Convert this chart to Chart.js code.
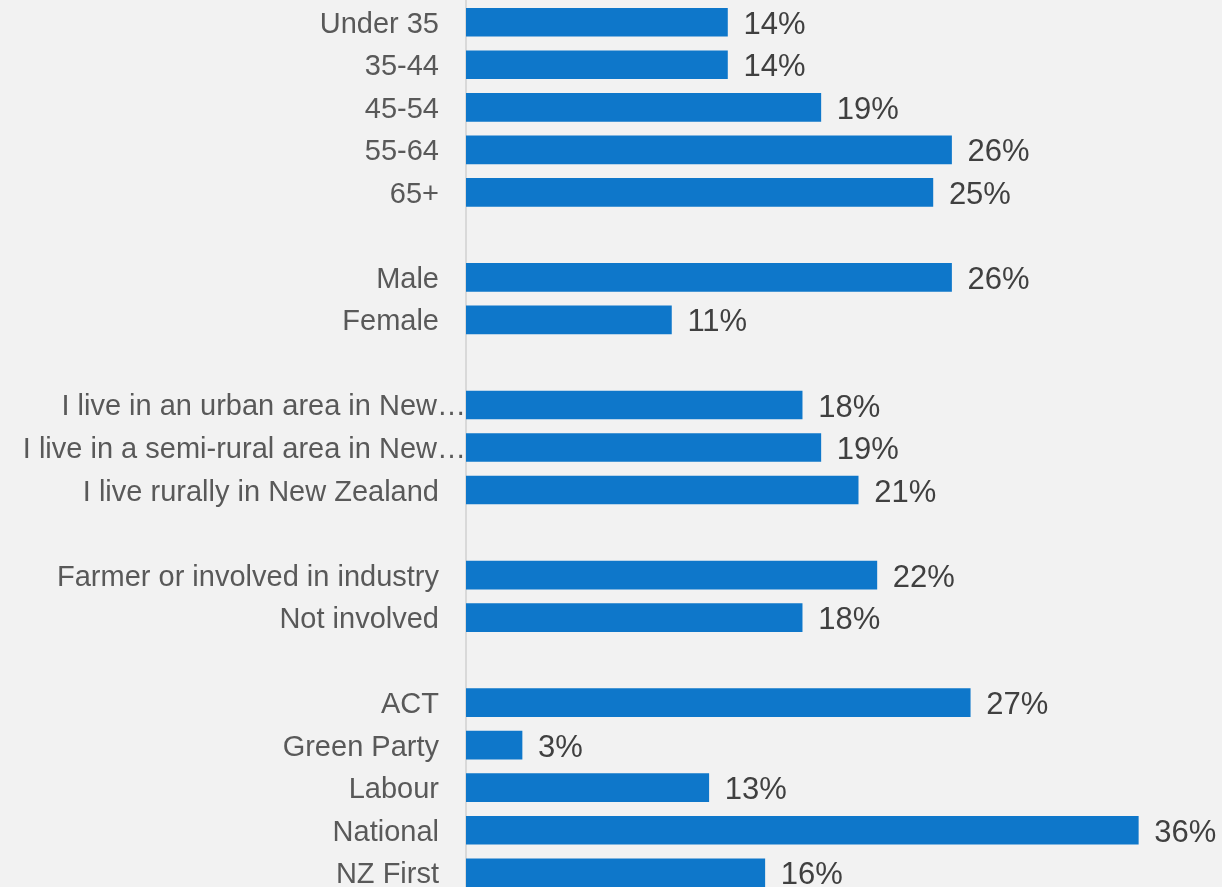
<!DOCTYPE html>
<html>
<head>
<meta charset="utf-8">
<script src="https://cdn.jsdelivr.net/npm/chart.js@4.4.1/dist/chart.umd.min.js"></script>
<style>
  html, body { margin: 0; padding: 0; background: #f2f2f2; overflow: hidden; }
  #wrap { position: relative; width: 1222px; height: 894px; }
</style>
</head>
<body>
<div id="wrap"><canvas id="chart"></canvas></div>
<script>
// ---- DATA ----
// empty strings are the blank spacer rows between groups
const categories = [
  'Under 35', '35-44', '45-54', '55-64', '65+',
  '',
  'Male', 'Female',
  '',
  'I live in an urban area in New\u2026', 'I live in a semi-rural area in New\u2026', 'I live rurally in New Zealand',
  '',
  'Farmer or involved in industry', 'Not involved',
  '',
  'ACT', 'Green Party', 'Labour', 'National', 'NZ First'
];
const values = [
  14, 14, 19, 26, 25,
  null,
  26, 11,
  null,
  18, 19, 21,
  null,
  22, 18,
  null,
  27, 3, 13, 36, 16
];
const xMin = 0;
const xMax = 40;

const FONT = '"Liberation Sans", Arial, sans-serif';

// category labels, drawn against the y scale (truncated labels run up to the axis)
const yLabelPlugin = {
  id: 'yLabels',
  afterDraw(chart) {
    const ctx = chart.ctx;
    const y = chart.scales.y;
    ctx.save();
    ctx.font = '29px ' + FONT;
    ctx.fillStyle = '#595959';
    ctx.textAlign = 'right';
    ctx.textBaseline = 'middle';
    categories.forEach((label, i) => {
      if (!label) return;
      const truncated = label.endsWith('\u2026');
      const x = truncated ? y.right : y.right - 27;
      ctx.fillText(label, x, y.getPixelForValue(i) + 2.5);
    });
    ctx.restore();
  }
};

// value labels at the end of each bar
const valueLabelPlugin = {
  id: 'valueLabels',
  afterDatasetsDraw(chart) {
    const ctx = chart.ctx;
    const meta = chart.getDatasetMeta(0);
    ctx.save();
    ctx.font = '31px ' + FONT;
    ctx.fillStyle = '#404040';
    ctx.textAlign = 'left';
    ctx.textBaseline = 'middle';
    meta.data.forEach((bar, i) => {
      const v = values[i];
      if (v === null) return;
      ctx.fillText(v + '%', bar.x + 16, bar.y + 3);
    });
    ctx.restore();
  }
};

new Chart(document.getElementById('chart'), {
  type: 'bar',
  data: {
    labels: categories,
    datasets: [{
      data: values,
      backgroundColor: '#0e77ca',
      borderWidth: 0,
      barThickness: 28
    }]
  },
  options: {
    indexAxis: 'y',
    responsive: true,
    maintainAspectRatio: false,
    animation: false,
    layout: { padding: { left: 0, right: 9, top: 1, bottom: 0 } },
    plugins: {
      legend: { display: false },
      tooltip: { enabled: false }
    },
    scales: {
      x: {
        min: xMin,
        max: xMax,
        display: false
      },
      y: {
        grid: { display: false },
        border: { display: true, color: '#d9d9d9', width: 2 },
        ticks: { display: false },
        afterFit: scale => { scale.width = 466; }
      }
    }
  },
  plugins: [yLabelPlugin, valueLabelPlugin]
});
</script>
</body>
</html>
